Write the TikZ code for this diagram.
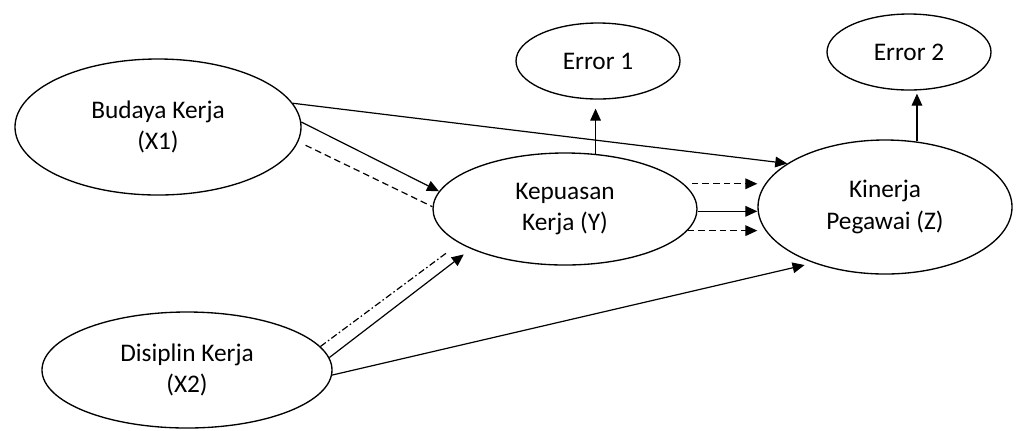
\documentclass[tikz,border=0pt]{standalone}
\usepackage{fontspec}
\setmainfont{Carlito}
\usetikzlibrary{shapes.geometric,arrows.meta}
\begin{document}
\begin{tikzpicture}[x=0.75pt,y=-0.75pt,
  oval/.style={ellipse,draw,line width=1pt,inner sep=0pt,align=center,
    font=\fontsize{19}{23.5}\selectfont},
  conn/.style={line width=0.9pt,-{Triangle[length=9pt,width=8pt]}},
  plain/.style={line width=0.9pt},
  dsh/.style={dash pattern=on 5pt off 3pt},
  dshdot/.style={dash pattern=on 5pt off 2pt on 1.2pt off 2pt}]
\useasboundingbox (0,0) rectangle (1016,430);
\node[oval,minimum width=286*0.75pt,minimum height=136*0.75pt] (bud) at (158,127) {Budaya Kerja\\(X1)};
\node[oval,minimum width=264*0.75pt,minimum height=112*0.75pt] (kep) at (565,209) {Kepuasan\\Kerja (Y)};
\node[oval,minimum width=254*0.75pt,minimum height=134*0.75pt] (kin) at (885,207) {Kinerja\\Pegawai (Z)};
\node[oval,minimum width=164*0.75pt,minimum height=76*0.75pt] (err1) at (598,61) {Error 1};
\node[oval,minimum width=164*0.75pt,minimum height=76*0.75pt] (err2) at (909,52) {Error 2};
\node[oval,minimum width=290*0.75pt,minimum height=116*0.75pt] (dis) at (187,370) {Disiplin Kerja\\(X2)};
% Budaya Kerja
\draw[conn] (bud.10) -- (kin.156);
\draw[conn] (bud.2) -- (kep.172);
\draw[plain,dsh,shorten <=6pt] (bud.-6) -- (kep.179);
% Disiplin Kerja
\draw[conn,shorten >=6.75pt] (dis.5) -- (kep.203);
\draw[plain,dshdot,shorten >=11pt] (dis.10) -- (kep.198);
\draw[conn,shorten >=6.75pt] (dis.-2) -- (kin.218);
% Kepuasan -> Kinerja
\draw[conn,dsh,shorten <=6pt] (kep.12) -- (kep.12 -| kin.west);
\draw[conn] (kep.-1.3) -- (kep.-1.3 -| kin.west);
\draw[conn,dsh] (kep.-10.85) -- (kep.-10.85 -| kin.west);
% errors
\draw[conn,shorten >=6.75pt] (kep.61) -- (kep.61 |- err1.south);
\draw[conn,shorten >=2.25pt] (kin.64.5) -- (kin.64.5 |- err2.south);
\end{tikzpicture}
\end{document}
